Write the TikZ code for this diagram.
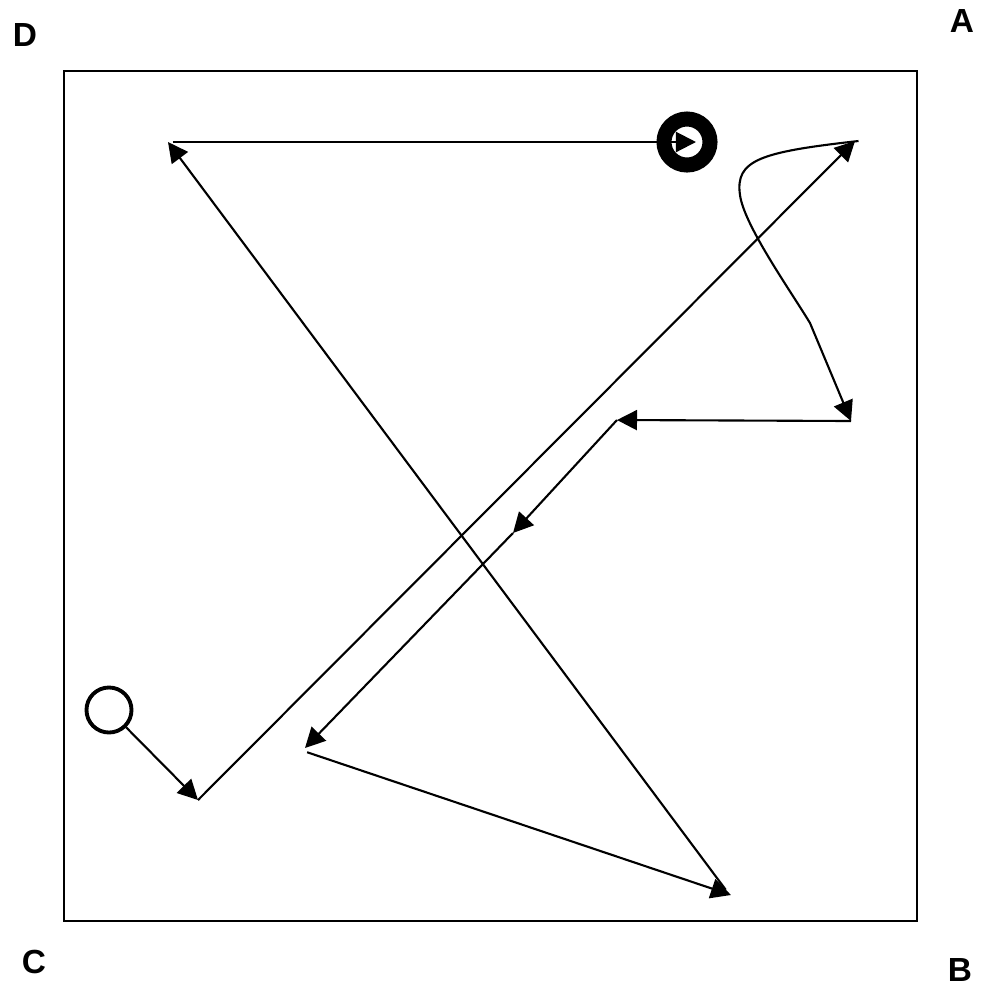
\documentclass[tikz,border=0pt]{standalone}
\usepackage{fontspec}
\setmainfont{Liberation Sans}
\usepackage{tikz}
\usetikzlibrary{arrows.meta}

\begin{document}
\begin{tikzpicture}[x=0.01cm,y=-0.01cm,
    path/.style={line width=0.6pt,-{Triangle[length=2mm,width=2mm]}},
    corner/.style={font=\fontsize{9.5}{11}\selectfont\bfseries,inner sep=0pt},
  ]
    \useasboundingbox (0,0) rectangle (990,993);
    \draw[line width=0.5pt] (64,71) rectangle (917,921);
    \node[corner] (lblA) at (962,21)  {A};
    \node[corner] (lblB) at (960,970) {B};
    \node[corner] (lblC) at (34,962)  {C};
    \node[corner] (lblD) at (25,35)   {D};
    % start and goal
    \node[circle,draw,line width=1.1pt,minimum size=0.45cm,inner sep=0pt] (start) at (109,710) {};
    \node[circle,draw,line width=0.15cm,minimum size=0.46cm,inner sep=0pt] (goal) at (687,142) {};
    \coordinate (p1) at (198,800);
    \coordinate (p2) at (855,141);
    \coordinate (bend) at (740,195);
    \coordinate (kink) at (810,323);
    \coordinate (p3) at (851,421);
    \coordinate (p4) at (617,420);
    \coordinate (p5) at (513,533);
    \coordinate (p6) at (305,748);
    \coordinate (p7) at (731,895);
    \coordinate (p8) at (168,142);
    \coordinate (g)  at (696,142);
    \draw[path] (start) -- (p1);
    \draw[path] (p1) -- (p2);
    \draw[path] ([xshift=1pt]p2) .. controls (760,152) and (735,160) .. (bend)
      .. controls (744,225) and (790,290) .. (kink) -- (p3);
    \draw[path] (p3) -- (p4);
    \draw[path] (p4) -- (p5);
    \draw[path] (p5) -- (p6);
    \draw[path] ([xshift=0.6pt,yshift=-1.2pt]p6) -- (p7);
    \draw[path] ([xshift=-1.5pt,yshift=1.5pt]p7) -- (p8);
    \draw[path] ([xshift=1.4pt]p8) -- (g);
  \end{tikzpicture}
\end{document}
